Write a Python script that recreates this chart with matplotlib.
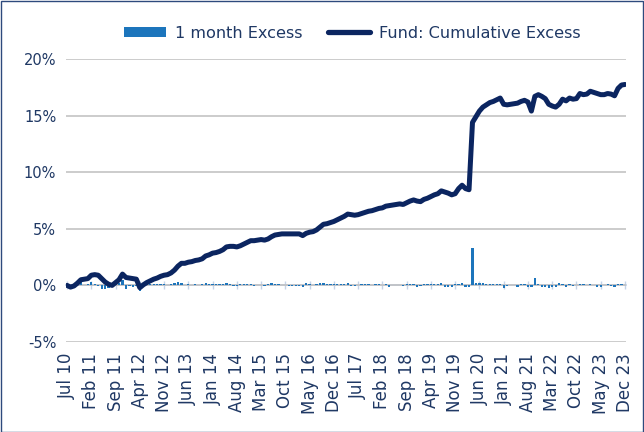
import matplotlib
matplotlib.use("Agg")
import matplotlib.pyplot as plt
from matplotlib.patches import Patch, Rectangle
from matplotlib.lines import Line2D
import numpy as np
import pandas as pd

# ---- data (percent) ----
months = pd.date_range("2010-07-01", "2023-12-01", freq="MS").strftime("%b %y").tolist()

tick_labels = ["Jul 10", "Feb 11", "Sep 11", "Apr 12", "Nov 12", "Jun 13", "Jan 14",
               "Aug 14", "Mar 15", "Oct 15", "May 16", "Dec 16", "Jul 17", "Feb 18",
               "Sep 18", "Apr 19", "Nov 19", "Jun 20", "Jan 21", "Aug 21", "Mar 22",
               "Oct 22", "May 23", "Dec 23"]

one_month_excess = [
    0.00, -0.10, 0.10, 0.25, 0.30, 0.05, 0.10, 0.30, 0.10, -0.05,
    -0.30, -0.30, -0.20, -0.10, 0.25, 0.20, 0.45, -0.30, -0.05, -0.10,
    -0.05, -0.50, 0.25, 0.20, 0.15, 0.15, 0.10, 0.15, 0.10, 0.05,
    0.15, 0.25, 0.30, 0.25, 0.05, 0.10, 0.05, 0.10, 0.05, 0.10,
    0.20, 0.10, 0.15, 0.10, 0.10, 0.15, 0.20, 0.10, -0.05, -0.05,
    0.10, 0.15, 0.15, 0.15, -0.05, 0.05, 0.05, -0.05, 0.10, 0.20,
    0.15, 0.10, 0.05, 0.05, -0.05, -0.05, -0.05, -0.05, -0.15, 0.20,
    0.10, 0.05, 0.15, 0.20, 0.20, 0.10, 0.10, 0.10, 0.15, 0.15,
    0.15, 0.20, -0.05, -0.05, 0.05, 0.10, 0.10, 0.10, 0.05, 0.10,
    0.10, 0.05, 0.10, -0.10, 0.05, 0.05, 0.05, -0.05, 0.10, 0.10,
    0.10, -0.10, -0.05, 0.15, 0.10, 0.10, 0.15, 0.10, 0.20, -0.10,
    -0.10, -0.15, 0.10, 0.15, 0.20, -0.10, -0.10, 3.30, 0.20, 0.25,
    0.20, 0.15, 0.15, 0.10, 0.10, 0.10, -0.20, -0.05, 0.05, 0.05,
    -0.10, 0.10, 0.10, -0.10, -0.15, 0.65, 0.10, -0.10, -0.15, -0.20,
    -0.10, -0.10, 0.25, 0.15, -0.10, 0.15, -0.05, 0.05, 0.15, 0.10,
    0.05, 0.10, 0.05, -0.10, -0.10, 0.05, 0.10, -0.05, -0.15, 0.15,
    0.10, 0.05,
]

cumulative_excess = [
    0.00, -0.15, -0.05, 0.20, 0.50, 0.55, 0.60, 0.90, 0.95, 0.90,
    0.60, 0.30, 0.10, 0.00, 0.25, 0.50, 1.00, 0.70, 0.65, 0.60,
    0.55, -0.20, 0.05, 0.25, 0.40, 0.55, 0.65, 0.80, 0.90, 0.95,
    1.10, 1.35, 1.70, 1.95, 1.95, 2.05, 2.10, 2.20, 2.25, 2.35,
    2.60, 2.70, 2.85, 2.90, 3.00, 3.15, 3.40, 3.45, 3.45, 3.40,
    3.50, 3.65, 3.80, 3.95, 3.95, 4.00, 4.05, 4.00, 4.10, 4.30,
    4.45, 4.50, 4.55, 4.55, 4.55, 4.55, 4.55, 4.55, 4.40, 4.60,
    4.70, 4.75, 4.90, 5.15, 5.40, 5.45, 5.55, 5.65, 5.80, 5.95,
    6.10, 6.30, 6.25, 6.20, 6.25, 6.35, 6.45, 6.55, 6.60, 6.70,
    6.80, 6.85, 7.00, 7.05, 7.10, 7.15, 7.20, 7.15, 7.30, 7.45,
    7.55, 7.45, 7.40, 7.60, 7.70, 7.85, 8.00, 8.10, 8.35, 8.25,
    8.15, 8.00, 8.10, 8.55, 8.85, 8.55, 8.45, 14.40, 14.90, 15.40,
    15.75, 15.95, 16.15, 16.25, 16.40, 16.55, 16.00, 15.95, 16.00, 16.05,
    16.10, 16.25, 16.35, 16.20, 15.40, 16.70, 16.85, 16.70, 16.50, 16.00,
    15.85, 15.75, 16.00, 16.45, 16.30, 16.55, 16.45, 16.50, 16.95, 16.85,
    16.90, 17.15, 17.05, 16.95, 16.85, 16.85, 16.95, 16.90, 16.75, 17.40,
    17.70, 17.75,
]

series_names = ["1 month Excess", "Fund: Cumulative Excess"]

# ---- style ----
BAR_C = "#1C75BC"
LINE_C = "#0B2560"
TEXT_C = "#1F3864"
GRID_C = "#BFBFBF"
AXIS_C = "#C5D3E8"
FONT = "DejaVu Sans"

plt.rcParams["font.family"] = [FONT]

fig = plt.figure(figsize=(6.44, 4.32), dpi=100)
ax = fig.add_axes([66 / 644, 90 / 432, (626 - 66) / 644, (373 - 90) / 432])

x = np.arange(len(cumulative_excess))
ax.bar(x, one_month_excess, width=0.65, color=BAR_C, zorder=3)
ax.plot(x, cumulative_excess, color=LINE_C, lw=3.6, solid_joinstyle="round",
        solid_capstyle="round", zorder=4)

ax.set_xlim(-0.3, len(x) - 0.7)
ax.set_ylim(-5, 20)
ax.set_yticks([-5, 0, 5, 10, 15, 20])
ax.set_yticklabels([f"{v}%" for v in [-5, 0, 5, 10, 15, 20]])
ax.yaxis.grid(True, color=GRID_C, lw=1.1, zorder=0)
ax.set_axisbelow(True)

tick_pos = [months.index(t) for t in tick_labels]
ax.set_xticks(tick_pos)
ax.set_xticklabels(tick_labels, rotation=90)

for s in ax.spines.values():
    s.set_visible(False)
ax.tick_params(axis="y", length=0, pad=7, labelsize=10.5, labelcolor=TEXT_C)
ax.tick_params(axis="x", length=0, pad=8, labelsize=12, labelcolor=TEXT_C)

# category axis line crossing at 0 with tick marks
sec = ax.secondary_xaxis(5 / 25)
sec.set_xticks(tick_pos)
sec.tick_params(direction="inout", length=6, width=1.0, color=AXIS_C, labelbottom=False)
sec.spines["bottom"].set_color(AXIS_C)
sec.spines["bottom"].set_linewidth(1.3)
sec.spines["bottom"].set_zorder(2)

# legend
handles = [Patch(facecolor=BAR_C, edgecolor="none"),
           Line2D([0], [0], color=LINE_C, lw=3.8, solid_capstyle="round")]
fig.legend(handles, series_names, loc="center", bbox_to_anchor=(352 / 644, 1 - 33 / 432),
           ncol=2, frameon=False, fontsize=11.6, labelcolor=TEXT_C,
           handlelength=2.6, handleheight=0.6, handletextpad=0.55, columnspacing=1.6)

# outer border
fig.patches.append(Rectangle((0.001, 0.001), 0.997, 0.997, transform=fig.transFigure,
                             fill=False, edgecolor="#2E4A7D", lw=1.0))

fig.savefig("out.png", dpi=100)
